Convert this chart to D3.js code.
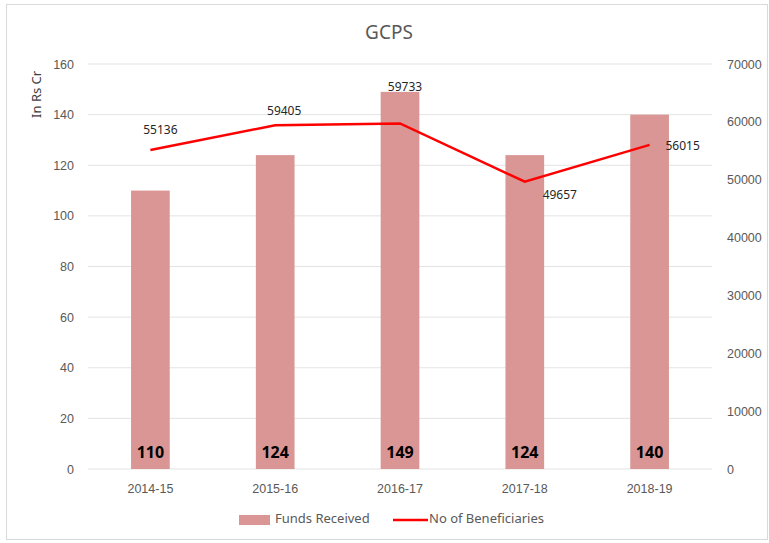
<!DOCTYPE html>
<html>
<head>
<meta charset="utf-8">
<script src="https://cdn.jsdelivr.net/npm/d3@7"></script>
<style>
  body { margin: 0; background: #fff; }
  svg { font-family: "Noto Sans", "Open Sans", sans-serif; }
</style>
</head>
<body>
<svg width="769" height="543"></svg>
<script>
// data
const years = ["2014-15", "2015-16", "2016-17", "2017-18", "2018-19"];
const funds = [110, 124, 149, 124, 140];
const beneficiaries = [55136, 59405, 59733, 49657, 56015];
const leftTicks = [0, 20, 40, 60, 80, 100, 120, 140, 160];
const rightTicks = [0, 10000, 20000, 30000, 40000, 50000, 60000, 70000];

const svg = d3.select("svg");
const margin = { top: 64, right: 57, bottom: 74, left: 88 };
const width = 769 - margin.left - margin.right;
const height = 543 - margin.top - margin.bottom;

// outer frame
svg.append("rect")
  .attr("x", 6.5).attr("y", 4.5)
  .attr("width", 761).attr("height", 535)
  .attr("fill", "#fff")
  .attr("stroke", "#d9d9d9");

svg.append("text")
  .attr("x", 389).attr("y", 39)
  .attr("text-anchor", "middle")
  .attr("font-size", "19px")
  .attr("fill", "#595959")
  .text("GCPS");

const g = svg.append("g")
  .attr("transform", `translate(${margin.left},${margin.top})`);

const x = d3.scaleBand().domain(years).range([0, width]).paddingInner(0.69).paddingOuter(0.345);
const yL = d3.scaleLinear().domain([0, 160]).range([height, 0]);
const yR = d3.scaleLinear().domain([0, 70000]).range([height, 0]);

// gridlines
g.selectAll(".grid")
  .data(leftTicks)
  .enter()
  .append("line")
  .attr("x1", 0).attr("x2", width)
  .attr("y1", d => yL(d)).attr("y2", d => yL(d))
  .attr("stroke", "#e3e3e3");

function styleAxis(ax) {
  ax.select(".domain").remove();
  ax.style("color", "#595959");
  ax.selectAll("text").attr("font-size", "12.5px").attr("font-family", "inherit");
}

// left axis
const axL = g.append("g")
  .call(d3.axisLeft(yL).tickValues(leftTicks).tickSize(0).tickPadding(14));
styleAxis(axL);

// right axis
const axR = g.append("g")
  .attr("transform", `translate(${width},0)`)
  .call(d3.axisRight(yR).tickValues(rightTicks).tickSize(0).tickPadding(15).tickFormat(d3.format("d")));
styleAxis(axR);

// x axis
const axX = g.append("g")
  .attr("transform", `translate(0,${height})`)
  .call(d3.axisBottom(x).tickSize(0).tickPadding(15));
styleAxis(axX);

// y title
g.append("text")
  .attr("transform", `translate(-47,${yL(148)}) rotate(-90)`)
  .attr("text-anchor", "middle")
  .attr("font-size", "13px")
  .attr("fill", "#404040")
  .text("In Rs Cr");

// bars
g.selectAll(".bar")
  .data(funds)
  .enter()
  .append("rect")
  .attr("x", (d, i) => x(years[i]))
  .attr("y", d => yL(d))
  .attr("width", x.bandwidth())
  .attr("height", d => height - yL(d))
  .attr("fill", "#d99694");

g.selectAll(".barlabel")
  .data(funds)
  .enter()
  .append("text")
  .attr("x", (d, i) => x(years[i]) + x.bandwidth() / 2)
  .attr("y", height - 11)
  .attr("text-anchor", "middle")
  .attr("font-size", "16px")
  .attr("font-weight", "bold")
  .attr("fill", "#000")
  .text(d => d);

// line
const cx = i => x(years[i]) + x.bandwidth() / 2;
g.append("path")
  .attr("d", d3.line()(beneficiaries.map((d, i) => [cx(i), yR(d)])))
  .attr("fill", "none")
  .attr("stroke", "#ff0000")
  .attr("stroke-width", 2.5);

const labelOffsets = [[10, -19], [9, -14], [5, -36], [35, 14], [33, 2]];
g.selectAll(".linelabel")
  .data(beneficiaries)
  .enter()
  .append("text")
  .attr("x", (d, i) => cx(i) + labelOffsets[i][0])
  .attr("y", (d, i) => yR(d) + labelOffsets[i][1])
  .attr("text-anchor", "middle")
  .attr("dominant-baseline", "middle")
  .attr("font-size", "12px")
  .attr("fill", "#262626")
  .text(d => d);

// legend
svg.append("rect")
  .attr("x", 239).attr("y", 515).attr("width", 31).attr("height", 10)
  .attr("fill", "#d99694");
svg.append("text")
  .attr("x", 275).attr("y", 520)
  .attr("dominant-baseline", "middle")
  .attr("font-size", "13px").attr("fill", "#595959")
  .text("Funds Received");
svg.append("line")
  .attr("x1", 393).attr("x2", 428).attr("y1", 520).attr("y2", 520)
  .attr("stroke", "#ff0000").attr("stroke-width", 2.5);
svg.append("text")
  .attr("x", 429).attr("y", 520)
  .attr("dominant-baseline", "middle")
  .attr("font-size", "13px").attr("fill", "#595959")
  .text("No of Beneficiaries");
</script>
</body>
</html>
